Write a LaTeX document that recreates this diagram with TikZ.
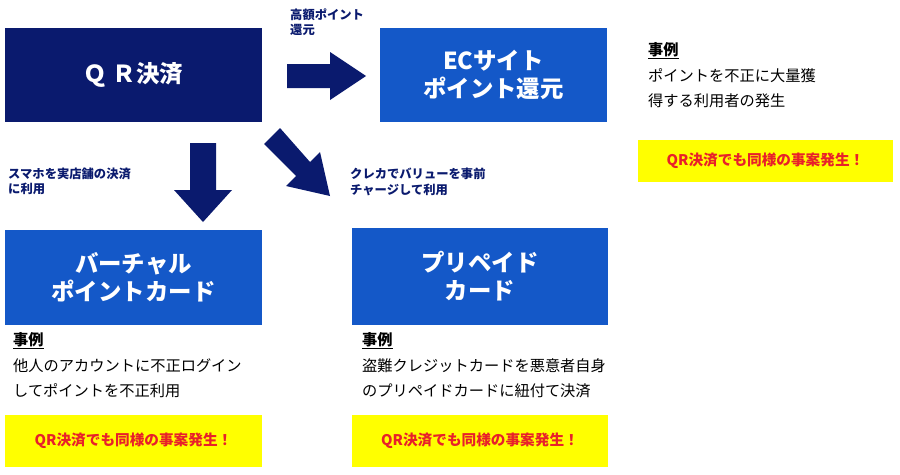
\documentclass[tikz,border=0pt]{standalone}
\usepackage{fontspec}
\setmainfont{Noto Sans CJK JP}
\definecolor{navy}{HTML}{0A1A6E}
\definecolor{qblue}{HTML}{1458C8}
\definecolor{qyellow}{HTML}{FFFF00}
\definecolor{qred}{HTML}{E8202A}
\tikzset{
  titlebox/.style={fill=qblue, text=white, font=\bfseries\fontsize{20}{24}\selectfont, align=center, inner sep=0pt},
  notebox/.style={fill=qyellow, text=qred, font=\bfseries\fontsize{12.5}{15}\selectfont, inner sep=0pt},
  smalltext/.style={font=\bfseries\fontsize{10.5}{13}\selectfont, align=left, anchor=north west, inner sep=0pt, text=navy},
  bodytext/.style={font=\fontsize{13}{22}\selectfont, align=left, anchor=north west, inner sep=0pt}
}
\begin{document}
\begin{tikzpicture}[x=0.03cm, y=-0.03cm]
    \useasboundingbox (0,0) rectangle (900,474);

    %boxes
    \fill[navy] (5,28) rectangle (262,122);
    \node[titlebox, fill=none] (qr) at (133.5,75) {Ｑ Ｒ決済};
    \fill[qblue] (380,28) rectangle (607,122);
    \node[titlebox, fill=none] (ec) at (493.5,75) {ECサイト\\ポイント還元};
    \fill[qblue] (5,230) rectangle (262,325);
    \node[titlebox, fill=none] (vc) at (133.5,277) {バーチャル\\ポイントカード};
    \fill[qblue] (352,228) rectangle (608,325);
    \node[titlebox, fill=none] (pp) at (480,276) {プリペイド\\カード};

    %arrows
    \fill[navy] (287,64) -- (330,64) -- (330,52) -- (366,76) -- (330,100) -- (330,88) -- (287,88) -- cycle;
    \fill[navy] (190,143) -- (216,143) -- (216,190) -- (232,190) -- (203,222) -- (174,190) -- (190,190) -- cycle;
    \fill[navy] (280,128) -- (264,144) -- (296,176) -- (286,186) -- (330,196) -- (320,152) -- (310,162) -- cycle;

    %labels
    \node[smalltext] (l1) at (290,8) {高額ポイント\\還元};
    \node[smalltext] (l2) at (8,168) {スマホを実店舗の決済\\に利用};
    \node[smalltext] (l3) at (350,168) {クレカでバリューを事前\\チャージして利用};

    %cases
    \node[bodytext] (c1) at (648,42) {\textbf{\underline{事例}}\\ポイントを不正に大量獲\\得する利用者の発生};
    \node[bodytext] (c2) at (13,332) {\textbf{\underline{事例}}\\他人のアカウントに不正ログイン\\してポイントを不正利用};
    \node[bodytext] (c3) at (362,332) {\textbf{\underline{事例}}\\盗難クレジットカードを悪意者自身\\のプリペイドカードに紐付て決済};

    %notes
    \fill[qyellow] (638,140) rectangle (893,182);
    \node[notebox, fill=none] (n1) at (765.5,161) {QR決済でも同様の事案発生！};
    \fill[qyellow] (5,415) rectangle (262,467);
    \node[notebox, fill=none] (n2) at (133.5,441) {QR決済でも同様の事案発生！};
    \fill[qyellow] (352,415) rectangle (608,467);
    \node[notebox, fill=none] (n3) at (480,441) {QR決済でも同様の事案発生！};
\end{tikzpicture}
\end{document}
